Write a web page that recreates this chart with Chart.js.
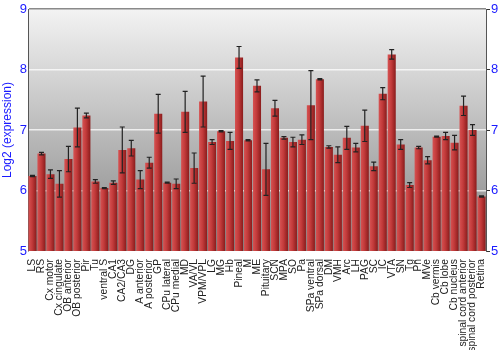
<!DOCTYPE html>
<html>
<head>
<meta charset="utf-8">
<script src="https://cdn.jsdelivr.net/npm/chart.js@4"></script>
<style>
  html, body { margin: 0; padding: 0; background: #fff; }
  #wrap { width: 500px; height: 350px; }
</style>
</head>
<body>
<div id="wrap"><canvas id="barChart"></canvas></div>
<script>
const regions = ['LS', 'RS', 'Cx motor', 'Cx cingulate', 'OB anterior', 'OB posterior', 'Pir', 'Tu',
    'ventral S', 'CA1', 'CA2/CA3', 'DG', 'A anterior', 'A posterior', 'GP', 'CPu lateral', 'CPu medial',
    'MD', 'VA/VL', 'VPM/VPL', 'LG', 'MG', 'Hb', 'Pineal', 'M', 'ME', 'Pituitary', 'SCN', 'MPA', 'SO',
    'Pa', 'SPa ventral', 'SPa dorsal', 'DM', 'VMH', 'Arc', 'LH', 'PAG', 'SC', 'IC', 'VTA', 'SN', 'Tg',
    'Pn', 'MVe', 'Cb vermis', 'Cb lobe', 'Cb nucleus', 'spinal cord anterior', 'spinal cord posterior', 'Retina'];

const expression = [6.24, 6.61, 6.27, 6.11, 6.52, 7.04, 7.24, 6.15, 6.04, 6.13, 6.67, 6.70, 6.18, 6.46,
    7.27, 6.13, 6.11, 7.30, 6.37, 7.47, 6.80, 6.98, 6.82, 8.20, 6.83, 7.73, 6.35, 7.36, 6.87, 6.80,
    6.84, 7.41, 7.84, 6.72, 6.59, 6.87, 6.71, 7.07, 6.40, 7.60, 8.25, 6.76, 6.09, 6.71, 6.50, 6.89,
    6.90, 6.79, 7.40, 7.00, 5.90];

const errors = [0.01, 0.02, 0.07, 0.22, 0.21, 0.32, 0.04, 0.03, 0.01, 0.03, 0.38, 0.13, 0.15, 0.09,
    0.32, 0.01, 0.08, 0.34, 0.25, 0.42, 0.04, 0.01, 0.14, 0.18, 0.01, 0.10, 0.43, 0.13, 0.02, 0.08,
    0.08, 0.57, 0.01, 0.02, 0.13, 0.19, 0.07, 0.26, 0.07, 0.10, 0.08, 0.08, 0.04, 0.02, 0.06, 0.01,
    0.06, 0.12, 0.16, 0.09, 0.01];

const yTicks = [5, 6, 7, 8, 9];

// gray gradient behind the plot
const plotBackground = {
    id: 'plotBackground',
    beforeDraw(chart) {
        const {ctx, chartArea: a} = chart;
        const g = ctx.createLinearGradient(0, a.top, 0, a.bottom);
        g.addColorStop(0, '#f3f3f3');
        g.addColorStop(1, '#848484');
        ctx.save();
        ctx.fillStyle = g;
        ctx.fillRect(a.left, a.top, a.right - a.left, a.bottom - a.top);
        ctx.restore();
    }
};

// error bars drawn from the y scale
const errorBars = {
    id: 'errorBars',
    afterDatasetsDraw(chart) {
        const {ctx} = chart;
        const y = chart.scales.y;
        const meta = chart.getDatasetMeta(0);
        ctx.save();
        ctx.strokeStyle = '#222';
        ctx.lineWidth = 1.2;
        meta.data.forEach((bar, i) => {
            const top = y.getPixelForValue(expression[i] + errors[i]);
            const bot = y.getPixelForValue(expression[i] - errors[i]);
            ctx.beginPath();
            ctx.moveTo(bar.x, top);
            ctx.lineTo(bar.x, bot);
            ctx.moveTo(bar.x - 2.5, top);
            ctx.lineTo(bar.x + 2.5, top);
            ctx.moveTo(bar.x - 2.5, bot);
            ctx.lineTo(bar.x + 2.5, bot);
            ctx.stroke();
        });
        ctx.restore();
    }
};

const barChart = document.getElementById('barChart').getContext('2d');

new Chart(barChart, {
    type: 'bar',
    data: {
        labels: regions,
        datasets: [{
            label: 'Log2 (expression)',
            data: expression,
            borderWidth: 0,
            barPercentage: 0.9,
            categoryPercentage: 1,
            backgroundColor: (c) => {
                const chart = c.chart;
                if (!chart.chartArea || c.dataIndex === undefined) return '#b83434';
                const x = chart.scales.x.getPixelForValue(c.dataIndex);
                const g = chart.ctx.createLinearGradient(x - 4, 0, x + 4, 0);
                g.addColorStop(0, '#d65252');
                g.addColorStop(0.45, '#c23a3a');
                g.addColorStop(1, '#8a1c1c');
                return g;
            },
        }],
    },
    options: {
        responsive: true,
        maintainAspectRatio: false,
        animation: false,
        layout: { padding: { top: 9, left: 0, right: 0, bottom: 0 } },
        scales: {
            x: {
                grid: { display: false },
                border: { display: false },
                ticks: {
                    autoSkip: false,
                    maxRotation: 90,
                    minRotation: 90,
                    padding: 0,
                    color: '#222',
                    font: { family: 'Liberation Sans', size: 10.3 },
                },
                afterFit: (s) => { s.height = 99; },
            },
            y: {
                position: 'left',
                min: 5,
                max: 9,
                afterBuildTicks: (s) => { s.ticks = yTicks.map(v => ({value: v})); },
                ticks: {
                    color: '#1a1aff',
                    padding: 1,
                    font: { family: 'Liberation Sans', size: 13 },
                },
                grid: {
                    drawTicks: false,
                    lineWidth: 1.5,
                    color: (c) => {
                        if (c.tick.value === 9) return '#8a8a8a';
                        if (c.tick.value === 5) return 'rgba(0,0,0,0)';
                        return 'rgba(255,255,255,0.75)';
                    },
                },
                border: { color: '#555', width: 1 },
                title: {
                    display: true,
                    text: 'Log2 (expression)',
                    color: '#1a1aff',
                    padding: 0,
                    font: { family: 'Liberation Sans', size: 12 },
                },
                afterFit: (s) => { s.width = 28; },
            },
            y2: {
                position: 'right',
                min: 5,
                max: 9,
                afterBuildTicks: (s) => { s.ticks = yTicks.map(v => ({value: v})); },
                ticks: {
                    color: '#1a1aff',
                    padding: 1,
                    font: { family: 'Liberation Sans', size: 13 },
                },
                grid: {
                    drawOnChartArea: false,
                    tickLength: 4,
                    color: '#333',
                },
                border: { color: '#555', width: 1 },
                afterFit: (s) => { s.width = 14; },
            },
        },
        plugins: {
            legend: { display: false },
            tooltip: { enabled: false },
        },
    },
    plugins: [plotBackground, errorBars],
});
</script>
</body>
</html>
